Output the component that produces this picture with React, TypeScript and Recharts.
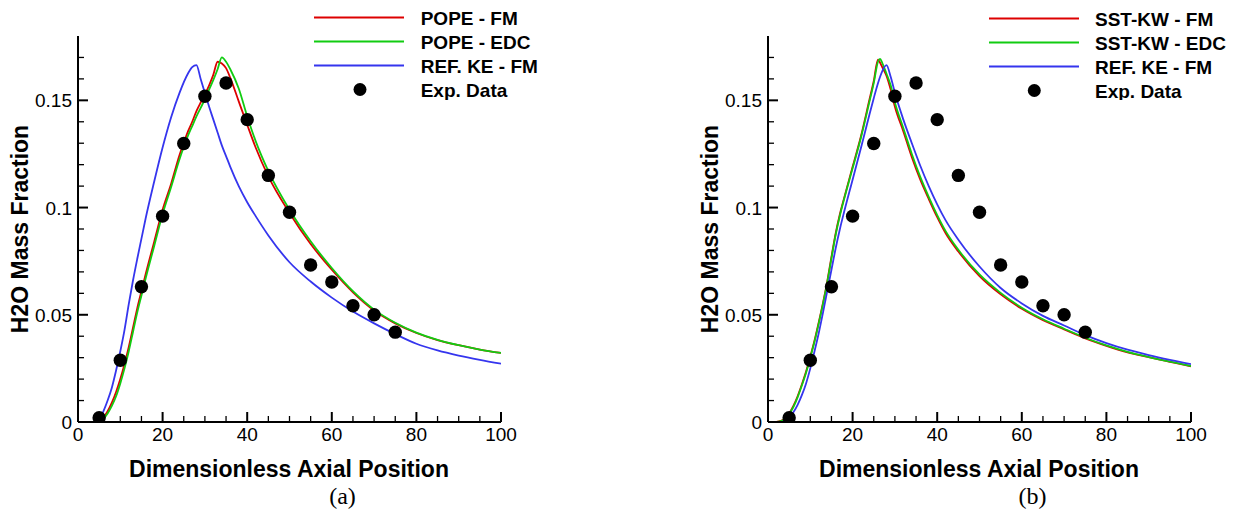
import { ComposedChart, Line, Scatter, XAxis, YAxis, Legend } from "recharts";

const FONT = '"Liberation Sans", Arial, sans-serif';
const RED = "#dd0000";
const GREEN = "#11cc11";
const BLUE = "#3535ee";

// experimental points (same in both panels)
const expX = [5, 10, 15, 20, 25, 30, 35, 40, 45, 50, 55, 60, 65, 70, 75];
const expY = [0.002, 0.0288, 0.0631, 0.096, 0.1299, 0.1519, 0.1581, 0.141, 0.115, 0.0978, 0.0732, 0.0653, 0.0542, 0.05, 0.0419];

// panel (a)
const leftX = [3.5, 4.5, 5, 6, 7, 8, 9, 10, 11, 12, 13, 14, 15, 16, 18, 20, 22, 24, 26, 27, 28, 29, 30, 31, 32, 33, 34, 35, 36, 38, 40, 42, 45, 50, 55, 60, 65, 70, 75, 80, 85, 90, 95, 100];
const popeFm = [0, 0, 0.0003, 0.002, 0.005, 0.009, 0.014, 0.02, 0.027, 0.035, 0.044, 0.053, 0.061, 0.069, 0.084, 0.099, 0.111, 0.1245, 0.1355, 0.14, 0.145, 0.149, 0.1527, 0.157, 0.162, 0.168, 0.1672, 0.165, 0.1605, 0.1495, 0.1386, 0.128, 0.1145, 0.0975, 0.083, 0.071, 0.0605, 0.052, 0.046, 0.0415, 0.0382, 0.0358, 0.0338, 0.0322];
const popeEdc = [0, 0, 0.0002, 0.0015, 0.004, 0.0075, 0.012, 0.018, 0.025, 0.033, 0.042, 0.051, 0.059, 0.067, 0.082, 0.097, 0.1095, 0.1225, 0.1335, 0.138, 0.1425, 0.1465, 0.1505, 0.155, 0.1595, 0.1645, 0.17, 0.168, 0.1645, 0.1555, 0.1425, 0.131, 0.117, 0.099, 0.0843, 0.0718, 0.061, 0.0524, 0.0463, 0.0417, 0.0383, 0.0358, 0.0338, 0.0322];
const refKeLeft = [0, 0.0005, 0.0015, 0.005, 0.01, 0.016, 0.024, 0.033, 0.043, 0.055, 0.066, 0.076, 0.0855, 0.095, 0.112, 0.128, 0.142, 0.1535, 0.1625, 0.1655, 0.1664, 0.16, 0.1534, 0.147, 0.141, 0.135, 0.129, 0.124, 0.119, 0.11, 0.1025, 0.096, 0.087, 0.0745, 0.0655, 0.058, 0.0515, 0.046, 0.041, 0.0365, 0.0334, 0.031, 0.029, 0.0272];

// panel (b)
const rightX = [2, 3, 4, 5, 6, 7, 8, 9, 10, 11, 12, 13, 14, 15, 16, 17, 18, 20, 22, 24, 25, 26, 26.5, 27, 28, 29, 30, 32, 34, 36, 38, 40, 42, 45, 50, 55, 60, 65, 70, 75, 80, 85, 90, 95, 100];
const sstFm = [0, 0.0005, 0.0015, 0.004, 0.0075, 0.012, 0.0175, 0.0235, 0.0305, 0.038, 0.0465, 0.0555, 0.0655, 0.077, 0.088, 0.097, 0.1045, 0.119, 0.1335, 0.1505, 0.159, 0.169, 0.1675, 0.1655, 0.1615, 0.155, 0.147, 0.1355, 0.1235, 0.113, 0.104, 0.0955, 0.088, 0.0795, 0.068, 0.0595, 0.0528, 0.0475, 0.0432, 0.039, 0.0355, 0.0325, 0.0302, 0.028, 0.026];
const sstEdc = [0, 0.0004, 0.0013, 0.0037, 0.007, 0.0115, 0.017, 0.023, 0.03, 0.0375, 0.046, 0.055, 0.065, 0.0763, 0.0873, 0.0963, 0.104, 0.1183, 0.1328, 0.1495, 0.158, 0.168, 0.1693, 0.1675, 0.1625, 0.157, 0.149, 0.137, 0.125, 0.1143, 0.105, 0.0965, 0.089, 0.0803, 0.0688, 0.0602, 0.0533, 0.0479, 0.0435, 0.0393, 0.0357, 0.0327, 0.0303, 0.0281, 0.0261];
const refKeRight = [0, 0, 0.0006, 0.002, 0.0045, 0.008, 0.0125, 0.018, 0.025, 0.033, 0.0415, 0.051, 0.061, 0.071, 0.081, 0.09, 0.098, 0.113, 0.128, 0.1435, 0.151, 0.158, 0.161, 0.1635, 0.1664, 0.161, 0.1535, 0.141, 0.13, 0.1195, 0.11, 0.1015, 0.094, 0.085, 0.0725, 0.0625, 0.0553, 0.0495, 0.045, 0.0405, 0.0368, 0.0337, 0.0312, 0.029, 0.027];

const xTicks = [0, 5, 10, 15, 20, 25, 30, 35, 40, 45, 50, 55, 60, 65, 70, 75, 80, 85, 90, 95, 100];
const yTicks = [0, 0.01, 0.02, 0.03, 0.04, 0.05, 0.06, 0.07, 0.08, 0.09, 0.1, 0.11, 0.12, 0.13, 0.14, 0.15, 0.16, 0.17];
const xMajor = [0, 20, 40, 60, 80, 100];
const yMajor = [0, 0.05, 0.1, 0.15];

const zip = (xs: number[], ys: number[]) => xs.map((x, i) => ({ x, y: ys[i] }));
const expData = zip(expX, expY);

const XTick = (props: any) => {
  const { x, y, payload } = props;
  const major = xMajor.includes(payload.value);
  return (
    <g>
      <line x1={x} x2={x} y1={y} y2={y - (major ? 10 : 6)} stroke="#000" strokeWidth={major ? 2 : 1.3} />
      {major && (
        <text x={x} y={y + 19} textAnchor="middle" fontSize={19} fontFamily={FONT} fill="#000">
          {payload.value}
        </text>
      )}
    </g>
  );
};

const YTick = (props: any) => {
  const { x, y, payload } = props;
  const major = yMajor.includes(payload.value);
  return (
    <g>
      <line x1={x} x2={x + (major ? 10 : 6)} y1={y} y2={y} stroke="#000" strokeWidth={major ? 2 : 1.3} />
      {major && (
        <text x={x - 6} y={y + 7} textAnchor="end" fontSize={19} fontFamily={FONT} fill="#000">
          {payload.value}
        </text>
      )}
    </g>
  );
};

type Series = { name: string; color: string; values: number[] };

function PlotLegend({ series, lineX, textX, dotX, rowY }: { series: Series[]; lineX: number; textX: number; dotX: number; rowY: number }) {
  return (
    <svg width={300} height={100} style={{ display: "block" }}>
      {series.map((s, i) => (
        <g key={s.name}>
          <line x1={lineX} x2={lineX + 90} y1={rowY + i * 24} y2={rowY + i * 24} stroke={s.color} strokeWidth={2} />
          <text x={textX} y={rowY + i * 24 + 7} fontSize={19} fontWeight="bold" fontFamily={FONT} fill="#000">
            {s.name}
          </text>
        </g>
      ))}
      <circle cx={dotX} cy={rowY + 72} r={6.5} fill="#000" />
      <text x={textX} y={rowY + 72 + 7} fontSize={19} fontWeight="bold" fontFamily={FONT} fill="#000">
        Exp. Data
      </text>
    </svg>
  );
}

function Panel({ xs, series, tag, legendLeft, lineX, textX, dotX, rowY }: any) {
  return (
    <ComposedChart width={620} height={512} margin={{ top: 36, right: 119, bottom: 0, left: 0 }}>
      <XAxis
        type="number"
        dataKey="x"
        domain={[0, 100]}
        ticks={xTicks}
        interval={0}
        height={90}
        tickSize={0}
        tickMargin={0}
        tick={XTick}
        axisLine={{ stroke: "#000", strokeWidth: 2 }}
        allowDataOverflow
      />
      <YAxis
        type="number"
        domain={[0, 0.18]}
        ticks={yTicks}
        interval={0}
        width={78}
        tickSize={0}
        tickMargin={0}
        tick={YTick}
        axisLine={{ stroke: "#000", strokeWidth: 2 }}
        allowDataOverflow
      />
      {series.map((s: Series) => (
        <Line
          key={s.name}
          name={s.name}
          data={zip(xs, s.values)}
          dataKey="y"
          type="monotone"
          stroke={s.color}
          strokeWidth={1.8}
          dot={false}
          activeDot={false}
          isAnimationActive={false}
        />
      ))}
      <Scatter
        name="Exp. Data"
        data={expData}
        dataKey="y"
        fill="#000"
        isAnimationActive={false}
        shape={(p: any) => <circle cx={p.cx} cy={p.cy} r={6.7} fill="#000" />}
      />
      <Legend
        layout="horizontal"
        verticalAlign="middle"
        align="center"
        wrapperStyle={{ left: legendLeft, top: 0, width: 300, height: 100 }}
        content={() => <PlotLegend series={series} lineX={lineX} textX={textX} dotX={dotX} rowY={rowY} />}
      />
      <text x={289} y={477} textAnchor="middle" fontSize={23} fontWeight="bold" fontFamily={FONT} fill="#000">
        Dimensionless Axial Position
      </text>
      <text
        x={28}
        y={229}
        transform="rotate(-90 28 229)"
        textAnchor="middle"
        fontSize={23}
        fontWeight="bold"
        fontFamily={FONT}
        fill="#000"
      >
        H2O Mass Fraction
      </text>
      <text x={342.5} y={504} textAnchor="middle" fontSize={24} fontFamily='"Liberation Serif", "DejaVu Serif", serif' fill="#000">
        {tag}
      </text>
    </ComposedChart>
  );
}

export default function App() {
  const leftSeries: Series[] = [
    { name: "POPE - FM", color: RED, values: popeFm },
    { name: "POPE - EDC", color: GREEN, values: popeEdc },
    { name: "REF. KE - FM", color: BLUE, values: refKeLeft },
  ];
  const rightSeries: Series[] = [
    { name: "SST-KW - FM", color: RED, values: sstFm },
    { name: "SST-KW - EDC", color: GREEN, values: sstEdc },
    { name: "REF. KE - FM", color: BLUE, values: refKeRight },
  ];
  return (
    <div style={{ position: "absolute", left: 0, top: 0, width: 1238, height: 512, background: "#fff", overflow: "hidden" }}>
      <div style={{ position: "absolute", left: 0, top: 0 }}>
        <Panel xs={leftX} series={leftSeries} tag="(a)" legendLeft={300} lineX={14} textX={120.7} dotX={60} rowY={17.5} />
      </div>
      <div style={{ position: "absolute", left: 690, top: 0 }}>
        <Panel xs={rightX} series={rightSeries} tag="(b)" legendLeft={290} lineX={9} textX={115} dotX={54.3} rowY={18.5} />
      </div>
    </div>
  );
}
